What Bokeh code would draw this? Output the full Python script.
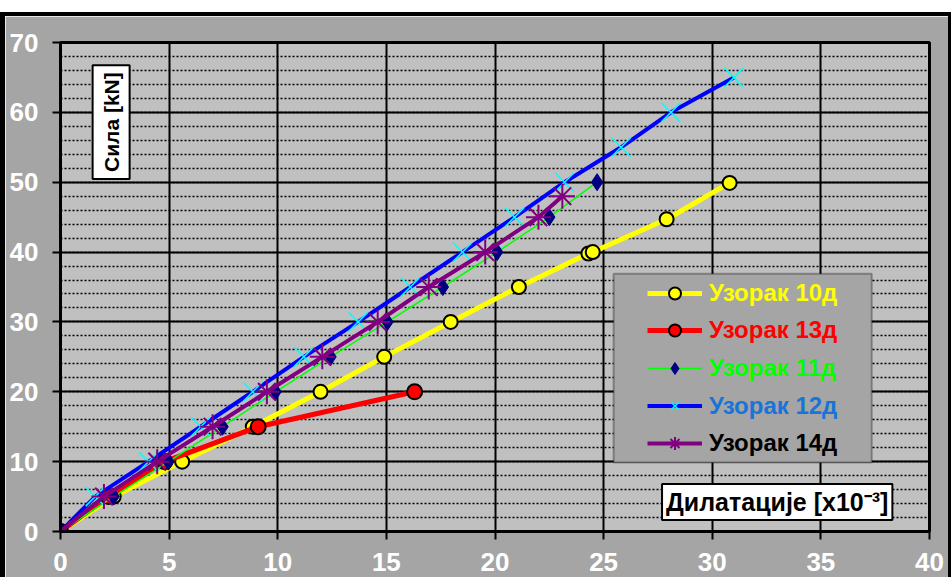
from math import pi
from bokeh.plotting import figure
from bokeh.models import (Range1d, SingleIntervalTicker, Legend, LegendItem,
                          Label, BoxAnnotation)
from bokeh.embed import file_html
from bokeh.resources import INLINE

# ---- data ----
s10_x = [0, 2.45, 5.6, 8.85, 11.97, 14.9, 17.96, 21.1, 24.3, 24.5, 27.9, 30.8]
s10_y = [0, 5, 10, 15, 20, 25, 30, 35, 39.8, 40, 44.7, 49.9]
s13_x = [0, 2.2, 4.8, 9.1, 16.3]
s13_y = [0, 5, 10, 15, 20]
s11_x = [0, 2.45, 4.97, 7.46, 9.9, 12.43, 15.05, 17.6, 20.1, 22.5, 24.7]
s11_y = [0, 5, 10, 15, 20, 25, 30, 35, 40, 45, 50]
s12_x = [0, 1.6, 4.05, 6.45, 8.85, 11.2, 13.7, 16.1, 18.5, 20.9, 23.2, 25.8, 28.1, 31.0]
s12_y = [0, 5, 10, 15, 20, 25, 30, 35, 40, 45, 50, 55, 60, 65]
s14_x = [0, 2.0, 4.45, 7.0, 9.5, 12.05, 14.6, 16.95, 19.55, 22.0, 23.1]
s14_y = [0, 5, 10, 15, 20, 25, 30, 35, 40, 45, 48]

names = ["Узорак 10д", "Узорак 13д", "Узорак 11д", "Узорак 12д", "Узорак 14д"]
x_title = "Дилатације [x10⁻³]"
y_title = "Сила [kN]"

FONT = "Liberation Sans"
OUTER = "#A5A5A5"

p = figure(frame_width=869, frame_height=489,
           min_border_left=55, min_border_right=19, min_border_top=26, min_border_bottom=55,
           x_range=Range1d(0, 40), y_range=Range1d(0, 70),
           output_backend="svg", toolbar_location=None,
           background_fill_color="#C0C0C0", border_fill_color=OUTER,
           outline_line_color="black", outline_line_width=3)
p.styles = {"margin-top": "12px",
            "border-top": "4px solid black", "border-left": "5px solid black",
            "border-right": "3px solid black"}

p.xaxis.ticker = SingleIntervalTicker(interval=5, num_minor_ticks=0)
p.yaxis.ticker = SingleIntervalTicker(interval=10, num_minor_ticks=5)
for ax in (p.xaxis[0], p.yaxis[0]):
    ax.axis_line_color = "black"
    ax.axis_line_width = 3
    ax.major_tick_line_color = "black"
    ax.major_tick_line_width = 2
    ax.major_tick_out = 8
    ax.major_tick_in = 0
    ax.minor_tick_line_color = None
    ax.major_label_text_color = "white"
    ax.major_label_text_font = FONT
    ax.major_label_text_font_style = "bold"
    ax.major_label_text_font_size = "26px"
p.xaxis.major_label_standoff = 13
p.yaxis.major_label_standoff = 14

p.xgrid.grid_line_color = "black"
p.xgrid.grid_line_width = 2
p.ygrid.grid_line_color = "black"
p.ygrid.grid_line_width = 2
p.ygrid.minor_grid_line_color = "black"
p.ygrid.minor_grid_line_width = 1.5
p.ygrid.minor_grid_line_dash = "2 2"

# ---- series ----
l10 = p.line(s10_x, s10_y, line_color="#FFFF00", line_width=5)
m10 = p.scatter(s10_x, s10_y, marker="circle", size=14, fill_color="#FFFF00",
                line_color="black", line_width=2)
l13 = p.line(s13_x, s13_y, line_color="#FF0000", line_width=5)
m13 = p.scatter(s13_x, s13_y, marker="circle", size=15, fill_color="#FF0000",
                line_color="black", line_width=2)
l11 = p.line(s11_x, s11_y, line_color="#00FF00", line_width=1.5)
m11 = p.scatter(s11_x, s11_y, marker="diamond", size=17,
                fill_color="#000080", line_color="#000080")
l12 = p.line(s12_x, s12_y, line_color="#0000FF", line_width=4)
m12 = p.scatter(s12_x, s12_y, marker="x", size=27, line_color="#00FFFF", line_width=1.5)
l14 = p.line(s14_x, s14_y, line_color="#800080", line_width=4)
m14 = p.scatter(s14_x, s14_y, marker="asterisk", size=25, line_color="#800080", line_width=2)

# ---- legend (box + one legend per entry so each text has its colour) ----
p.add_layout(BoxAnnotation(left=25.46, right=37.34, top=36.9, bottom=9.87,
                           fill_color=OUTER, fill_alpha=1,
                           line_color="black", line_width=2))

entries = [
    (names[0], [l10, m10], "#FFFF00", 292.5, 30),
    (names[1], [l13, m13], "#FF0000", 330.0, 30),
    (names[2], [l11, m11], "#00FF00", 368.0, 30),
    (names[3], [l12, m12], "#1874D8", 405.5, 25),
    (names[4], [l14, m14], "#000000", 443.0, 32),
]
for label, rends, color, cy, gh in entries:
    h = max(gh, 28)
    leg = Legend(items=[LegendItem(label=label, renderers=rends)],
                 location=(587, 531 - (cy + h / 2)),
                 glyph_width=55, glyph_height=gh, label_height=gh,
                 label_standoff=7, padding=0, margin=0, spacing=0,
                 border_line_color=None, background_fill_alpha=0,
                 label_text_font=FONT, label_text_font_style="bold",
                 label_text_font_size="24px", label_text_color=color)
    p.add_layout(leg)

# ---- axis titles ----
p.add_layout(Label(x=2.33, y=58.6, text=y_title, angle=pi / 2,
                   text_align="center", text_baseline="middle",
                   text_font=FONT, text_font_style="bold", text_font_size="21px",
                   text_color="black", background_fill_color="white",
                   border_line_color="black", border_line_width=2, padding=7))
p.add_layout(Label(x=32.99, y=4.22, text=x_title,
                   text_align="center", text_baseline="middle",
                   text_font=FONT, text_font_style="bold", text_font_size="25px",
                   text_color="black", background_fill_color="white",
                   border_line_color="black", border_line_width=2, padding=4))

open("out.html", "w").write(file_html(p, INLINE))
